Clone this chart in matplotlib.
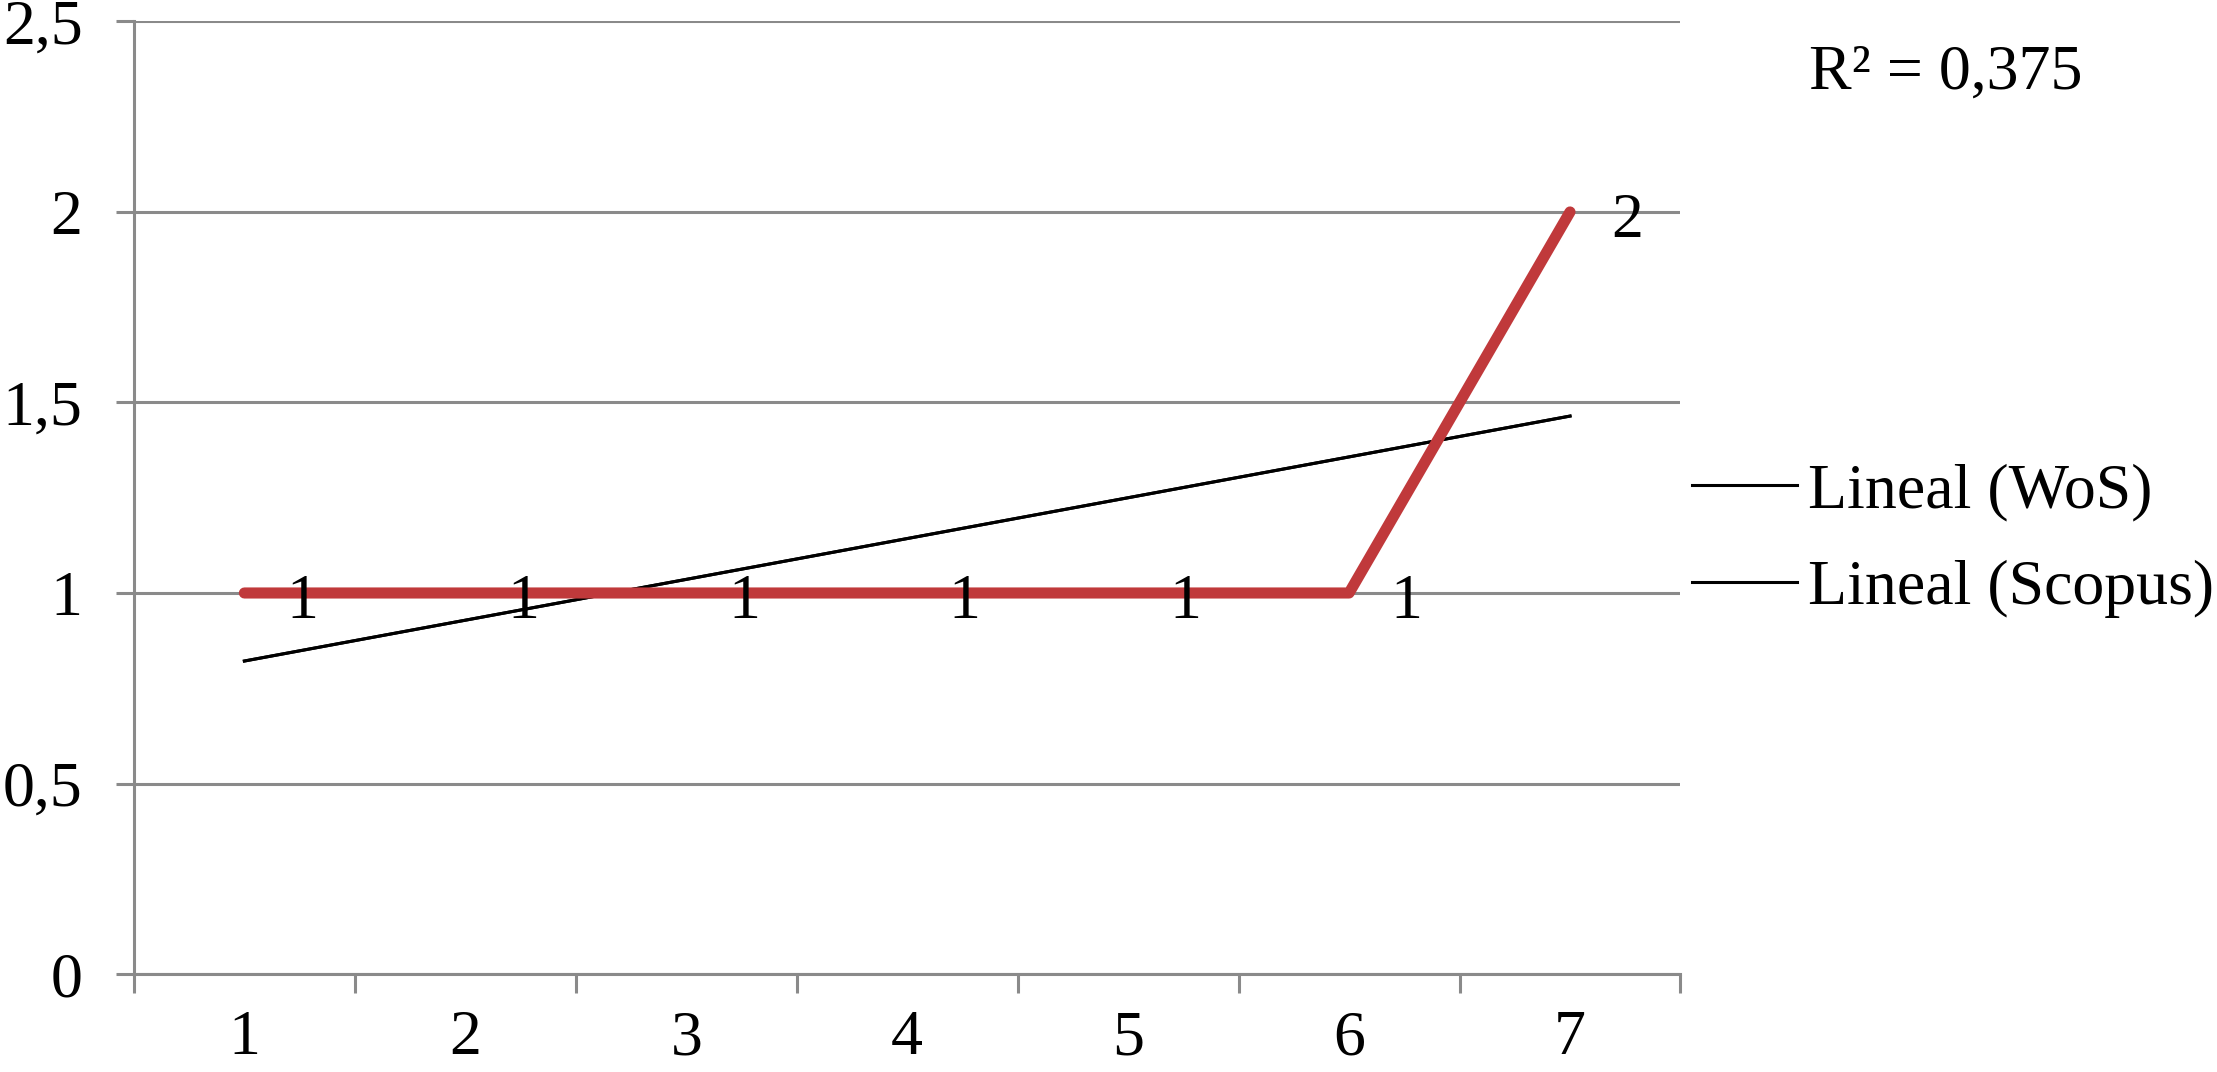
import numpy as np
import matplotlib.pyplot as plt

categories = [1, 2, 3, 4, 5, 6, 7]
scopus = [1, 1, 1, 1, 1, 1, 2]
wos = [1, 1, 1, 1, 1, 1, 2]
y_ticks = [0, 0.5, 1, 1.5, 2, 2.5]
y_labels = ['0', '0,5', '1', '1,5', '2', '2,5']

plt.rcParams['font.family'] = ['Liberation Serif', 'DejaVu Serif']
grey = '#8a8a8a'
red = '#c0393b'
fs = 46

fig = plt.figure(figsize=(22.17, 10.72), dpi=100)
ax = fig.add_axes([0.0604, 0.0914, 0.758 - 0.0604, 0.980 - 0.0914])

x = np.array(categories, dtype=float)

# trend lines (linear fit of each series)
for series, name in [(wos, 'Lineal (WoS)'), (scopus, 'Lineal (Scopus)')]:
    k, b = np.polyfit(x, series, 1)
    ax.plot(x, k * x + b, color='black', lw=2.2, label=name, zorder=3)

ax.plot(x, scopus, color=red, lw=8, solid_capstyle='round',
        solid_joinstyle='round', zorder=4)

for xi, yi in zip(x, scopus):
    ax.annotate(str(yi), (xi, yi), xytext=(30, -7), textcoords='offset points',
                ha='left', va='center', fontsize=fs, zorder=5)

ax.set_xlim(0.5, 7.5)
ax.set_ylim(0, 2.5)
ax.set_yticks(y_ticks)
ax.set_yticklabels(y_labels)
ax.set_xticks(np.arange(0.5, 8, 1))
ax.set_xticklabels([])
ax.set_xticks(x, minor=True)
ax.set_xticklabels([str(c) for c in categories], minor=True)
ax.tick_params(axis='x', which='major', length=14, width=2.2, color=grey)
ax.tick_params(axis='x', which='minor', length=0, pad=26, labelsize=fs)
ax.tick_params(axis='y', length=13, width=2.2, color=grey, pad=24, labelsize=fs)

ax.grid(axis='y', color=grey, lw=2.2, zorder=1)
ax.set_axisbelow(True)
for side in ['top', 'right']:
    ax.spines[side].set_visible(False)
for side in ['left', 'bottom']:
    ax.spines[side].set_color(grey)
    ax.spines[side].set_linewidth(2.2)

ax.legend(loc='center left', bbox_to_anchor=(0.763, 0.496),
          bbox_transform=fig.transFigure, frameon=False, fontsize=fs,
          handlelength=1.65, handletextpad=0.17, labelspacing=0.6,
          borderaxespad=0, borderpad=0)

fig.text(0.816, 0.931, 'R² = 0,375', fontsize=fs, va='center', ha='left')

fig.savefig('out.png', dpi=100)
